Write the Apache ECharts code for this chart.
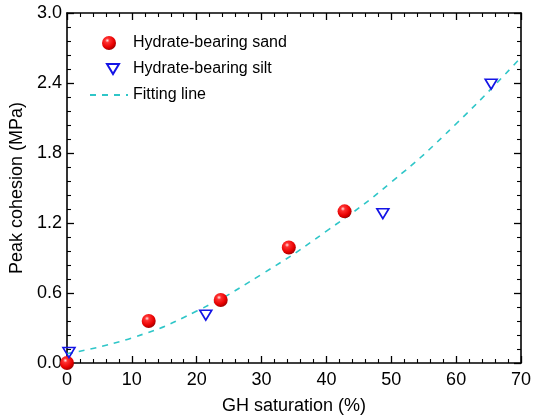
<!DOCTYPE html>
<html>
<head>
<meta charset="utf-8">
<script src="https://cdn.jsdelivr.net/npm/echarts@6/dist/echarts.min.js"></script>
<style>
  html, body { margin: 0; padding: 0; background: #fff; }
  #chart { width: 534px; height: 420px; }
</style>
</head>
<body>
<div id="chart"></div>
<script>
// values: [GH saturation %, peak cohesion MPa]
var sandData = [[0, 0.0], [12.6, 0.36], [23.7, 0.54], [34.2, 0.99], [42.8, 1.30]];
var siltData = [[0.3, 0.09], [21.4, 0.41], [48.7, 1.28], [65.4, 2.39]];
var fitData = [[0, 0.08], [10, 0.215], [20, 0.445], [30, 0.76], [40, 1.13], [50, 1.55], [60, 2.05], [70, 2.62]];

var font = "'Liberation Sans', Arial, sans-serif";
var axisColor = '#000';

function xAxisOf(pos, showLabel) {
  return {
    type: 'value',
    position: pos,
    min: 0,
    max: 70,
    interval: 10,
    name: showLabel ? 'GH saturation (%)' : '',
    nameLocation: 'center',
    nameGap: 34,
    nameTextStyle: { color: '#000', fontSize: 18, fontFamily: font },
    axisLine: { show: true, onZero: false, lineStyle: { color: axisColor, width: 1.6 } },
    axisTick: { show: true, inside: true, length: 7, lineStyle: { color: axisColor, width: 1.3 } },
    minorTick: { show: true, splitNumber: 5, length: 4, lineStyle: { color: axisColor, width: 1.1 } },
    axisLabel: { show: showLabel, color: '#000', fontSize: 18, fontFamily: font, margin: 8 },
    splitLine: { show: false }
  };
}

function yAxisOf(pos, showLabel) {
  return {
    type: 'value',
    position: pos,
    min: 0,
    max: 3,
    interval: 0.6,
    name: showLabel ? 'Peak cohesion (MPa)' : '',
    nameLocation: 'center',
    nameGap: 40,
    nameRotate: 90,
    nameTextStyle: { color: '#000', fontSize: 18, fontFamily: font },
    axisLine: { show: true, onZero: false, lineStyle: { color: axisColor, width: 1.6 } },
    axisTick: { show: true, inside: true, length: 7, lineStyle: { color: axisColor, width: 1.3 } },
    minorTick: { show: true, splitNumber: 5, length: 4, lineStyle: { color: axisColor, width: 1.1 } },
    axisLabel: {
      show: showLabel, color: '#000', fontSize: 18, fontFamily: font, margin: 5,
      formatter: function (v) { return v.toFixed(1); }
    },
    splitLine: { show: false }
  };
}

var sphere = {
  type: 'radial', x: 0.38, y: 0.32, r: 0.7,
  colorStops: [
    { offset: 0, color: '#ffe6e6' },
    { offset: 0.22, color: '#ff3030' },
    { offset: 0.7, color: '#e80000' },
    { offset: 1, color: '#a00000' }
  ]
};

var chart = echarts.init(document.getElementById('chart'));
chart.setOption({
  animation: false,
  backgroundColor: '#fff',
  grid: { left: 67, right: 11, top: 13, bottom: 49 },
  legend: {
    orient: 'vertical',
    left: 89,
    top: 35,
    padding: 0,
    itemWidth: 38,
    itemHeight: 14,
    itemGap: 10,
    textStyle: { color: '#000', fontSize: 16, fontFamily: font },
    data: [
      { name: 'Hydrate-bearing sand' },
      // inverted open triangle, padded so it keeps its real size inside the 38x14 box
      { name: 'Hydrate-bearing silt', icon: 'path://M0,0M38,14M17,2L29,2L23,12Z' },
      { name: 'Fitting line', itemStyle: { opacity: 0 } }
    ]
  },
  xAxis: [xAxisOf('bottom', true), xAxisOf('top', false)],
  yAxis: [yAxisOf('left', true), yAxisOf('right', false)],
  series: [
    {
      name: 'Fitting line',
      type: 'line',
      data: fitData,
      smooth: true,
      symbol: 'none',
      z: 2,
      lineStyle: { color: '#2fc6c8', width: 1.6, type: [6, 6] },
      itemStyle: { color: '#2fc6c8' }
    },
    {
      name: 'Hydrate-bearing sand',
      type: 'scatter',
      data: sandData,
      symbol: 'circle',
      symbolSize: 14,
      z: 3,
      itemStyle: { color: sphere, opacity: 1 }
    },
    {
      name: 'Hydrate-bearing silt',
      type: 'scatter',
      data: siltData,
      symbol: 'triangle',
      symbolRotate: 180,
      symbolSize: [12, 10],
      z: 3,
      itemStyle: { color: 'rgba(255,255,255,0)', borderColor: '#1414e6', borderWidth: 1.6, opacity: 1 }
    }
  ]
});
</script>
</body>
</html>
